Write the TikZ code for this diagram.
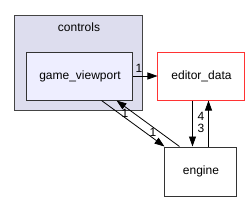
\documentclass[tikz,border=0pt]{standalone}
\usepackage{fontspec}
\setmainfont{Liberation Sans}
\usetikzlibrary{arrows.meta}
\definecolor{clusterfill}{HTML}{DDDDEE}
\definecolor{dirfill}{HTML}{EEEEFF}
\definecolor{clusterline}{HTML}{444444}
\tikzset{
  dirbox/.style={draw=black!80, line width=1pt, inner sep=0pt, font=\fontsize{12}{14}\selectfont},
  dep/.style={-{Triangle[length=10pt,width=7pt]}, line width=0.8pt},
  count/.style={font=\fontsize{12}{14}\selectfont, inner sep=0pt}
}
\begin{document}
\begin{tikzpicture}[x=1pt,y=-1pt]
  \useasboundingbox (0,0) rectangle (250,201);
  % the controls folder
  \node[draw=clusterline, line width=1pt, fill=clusterfill, minimum width=128pt, minimum height=95pt] (controls) at (79,62.5) {};
  \node[count] (controlsname) at (79,27) {controls};
  \node[dirbox, fill=dirfill, minimum width=106pt, minimum height=48pt] (gv) at (80,76) {game\_viewport};
  % the other folders
  \node[dirbox, draw=red!80, fill=white, minimum width=87pt, minimum height=48pt] (ed) at (201.5,76) {editor\_data};
  \node[dirbox, fill=white, minimum width=72pt, minimum height=49pt] (engine) at (201,171.5) {engine};
  % dependencies
  \draw[dep] (gv.east) -- (ed.west);
  \draw[dep] ([xshift=75]gv.south west) -- (engine.north west);
  \draw[dep] ([xshift=15]engine.north west) -- ([xshift=90]gv.south west);
  \draw[dep] ([xshift=35]ed.south west) -- ([xshift=28]engine.north west);
  \draw[dep] ([xshift=44]engine.north west) -- ([xshift=51]ed.south west);
  \node[count] (c1) at (139,68) {1};
  \node[count] (c2) at (153,132) {1};
  \node[count] (c3) at (125,113) {1};
  \node[count] (c4) at (201,116) {4};
  \node[count] (c5) at (201,128) {3};
\end{tikzpicture}
\end{document}
